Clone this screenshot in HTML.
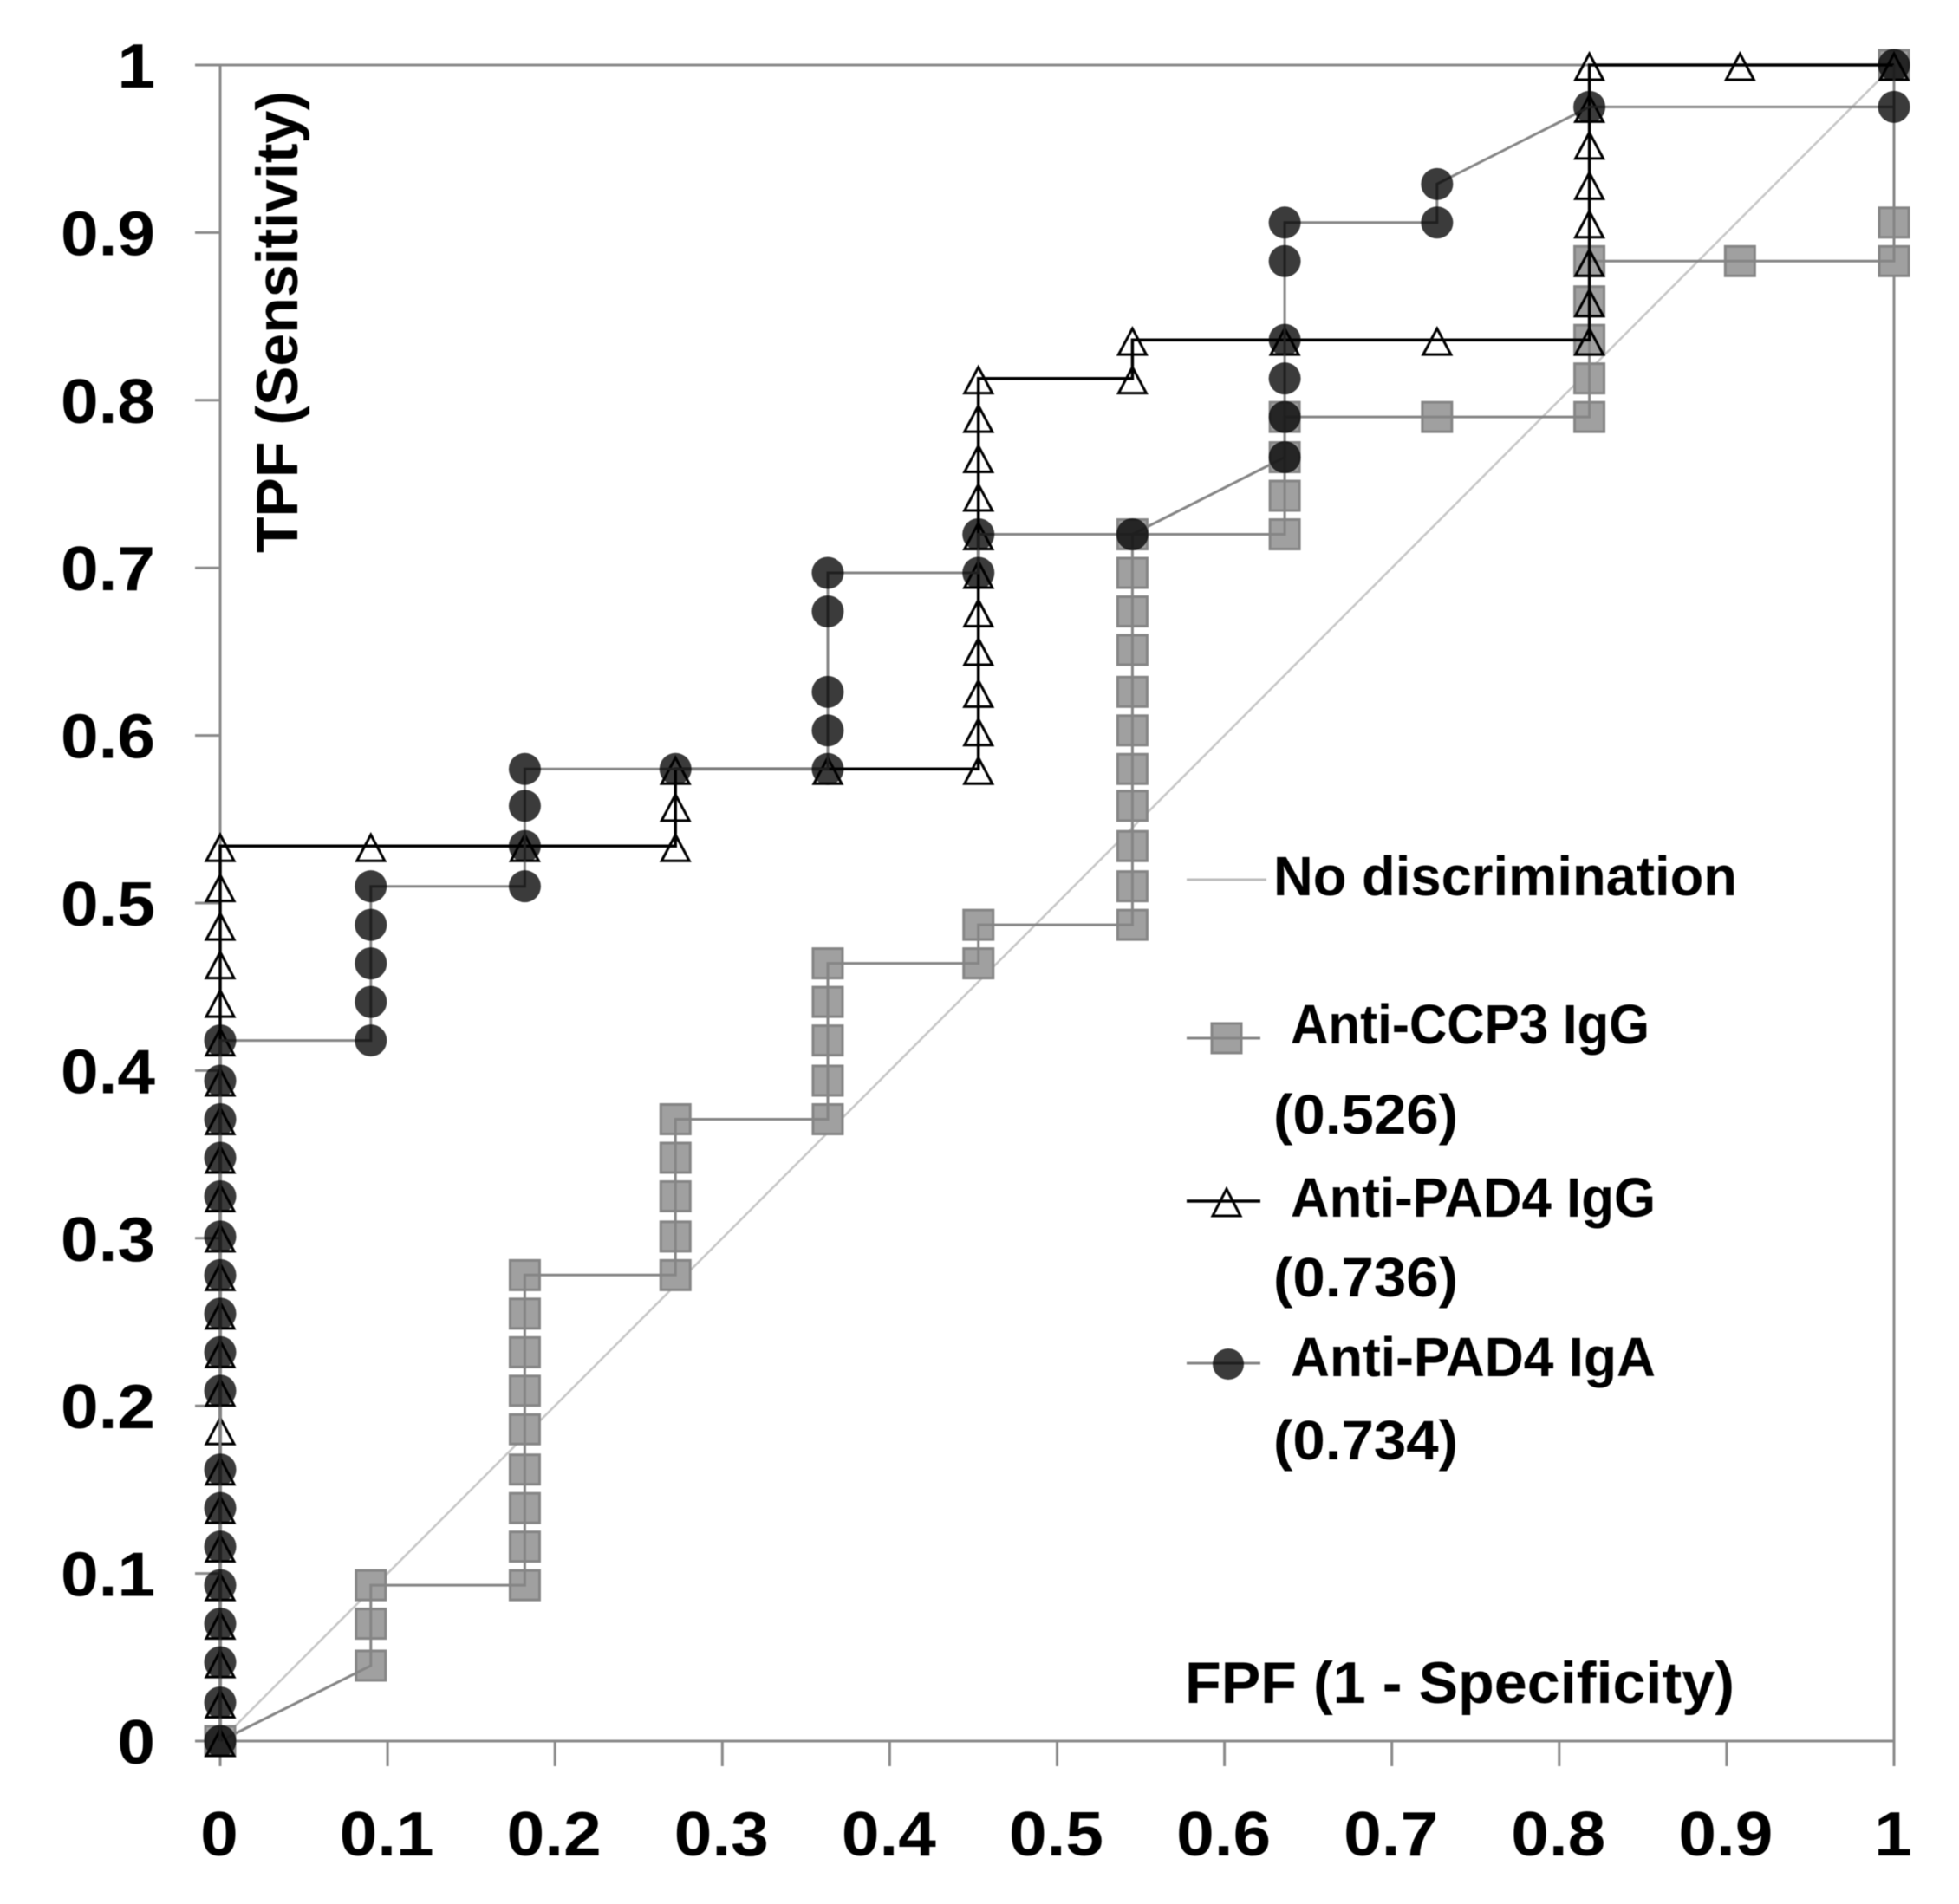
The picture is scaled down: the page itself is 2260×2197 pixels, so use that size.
<!DOCTYPE html>
<html lang="en">
<head>
<meta charset="utf-8">
<title>ROC curves</title>
<style>
html,body{margin:0;padding:0;background:#fff;width:2260px;height:2197px;overflow:hidden}
svg{display:block;filter:blur(0.6px)}
text{font-family:"Liberation Sans",sans-serif;font-weight:bold;fill:#000}
</style>
</head>
<body>
<svg id="chart" xmlns="http://www.w3.org/2000/svg" width="2260" height="2197" viewBox="0 0 2260 2197">
  <rect x="0" y="0" width="2260" height="2197" fill="#fff"/>
  <g id="frame"></g>
  <g id="ticks"></g>
  <g id="labels"></g>
  <g id="series"></g>

  <text transform="translate(343,638) rotate(-90)" font-size="68" textLength="533" lengthAdjust="spacingAndGlyphs">TPF (Sensitivity)</text>
  <text x="1367" y="1965" font-size="68" textLength="634" lengthAdjust="spacingAndGlyphs">FPF (1 - Specificity)</text>

  <g>
    <g>
      <line x1="1369" y1="1015" x2="1461" y2="1015" stroke="#bdbdbd" stroke-width="3"/>
      <text x="1469" y="1033" font-size="64" textLength="535" lengthAdjust="spacingAndGlyphs">No discrimination</text>
    </g>
    <g>
      <rect x="1398" y="1181" width="34" height="34" fill="#a0a0a0" stroke="#858585" stroke-width="3"/>
      <line x1="1369" y1="1198" x2="1454" y2="1198" stroke="#858585" stroke-width="3"/>
      <text x="1489" y="1204" font-size="64" textLength="414" lengthAdjust="spacingAndGlyphs">Anti-CCP3 IgG</text>
      <text x="1469" y="1308" font-size="64" textLength="213" lengthAdjust="spacingAndGlyphs">(0.526)</text>
    </g>
    <g>
      <polygon points="1415,1372 1431,1403 1399,1403" fill="#fff" stroke="#000" stroke-width="3"/>
      <line x1="1369" y1="1386" x2="1454" y2="1386" stroke="#000" stroke-width="3.5"/>
      <text x="1489" y="1404" font-size="64" textLength="421" lengthAdjust="spacingAndGlyphs">Anti-PAD4 IgG</text>
      <text x="1469" y="1496" font-size="64" textLength="213" lengthAdjust="spacingAndGlyphs">(0.736)</text>
    </g>
    <g>
      <line x1="1369" y1="1573" x2="1454" y2="1573" stroke="#858585" stroke-width="3"/>
      <circle cx="1417" cy="1574" r="18" fill="rgba(0,0,0,0.77)"/>
      <text x="1489" y="1588" font-size="64" textLength="421" lengthAdjust="spacingAndGlyphs">Anti-PAD4 IgA</text>
      <text x="1469" y="1684" font-size="64" textLength="213" lengthAdjust="spacingAndGlyphs">(0.734)</text>
    </g>
  </g>
</svg>
<script>
const tickValues = [0, 0.1, 0.2, 0.3, 0.4, 0.5, 0.6, 0.7, 0.8, 0.9, 1];
const tickLabels = ['0', '0.1', '0.2', '0.3', '0.4', '0.5', '0.6', '0.7', '0.8', '0.9', '1'];

const noDiscX = [0, 1];
const noDiscY = [0, 1];

const ccp3X = [0, .09, .09, .09, .182, .182, .182, .182, .182, .182, .182, .182, .182,
  .272, .272, .272, .272, .272, .363, .363, .363, .363, .363, .453, .453,
  .545, .545, .545, .545, .545, .545, .545, .545, .545, .545, .545,
  .636, .636, .636, .636, .727, .818, .818, .818, .818, .818, .908, 1, 1, 1];
const ccp3Y = [0, .045, .070, .093, .093, .116, .139, .162, .186, .209, .232, .255, .278,
  .278, .301, .325, .348, .371, .371, .394, .418, .441, .464, .464, .487,
  .487, .510, .534, .558, .580, .603, .626, .651, .674, .697, .720,
  .720, .743, .766, .790, .790, .790, .813, .836, .859, .883, .883, .883, .906, 1];

const iggX = [0, 0, 0, 0, 0, 0, 0, 0, 0, 0, 0, 0, 0, 0, 0, 0, 0, 0, 0, 0, 0, 0, 0, 0,
  .09, .182, .272, .272, .272, .363,
  .453, .453, .453, .453, .453, .453, .453, .453, .453, .453, .453,
  .545, .545, .636, .727, .818, .818, .818, .818, .818, .818, .818, .818, .908, 1];
const iggY = [0, .023, .047, .070, .093, .116, .139, .162, .186, .209, .232, .255, .278, .301, .325, .348, .371, .394, .418, .441, .464, .487, .510, .534,
  .534, .534, .534, .558, .580, .580,
  .580, .603, .626, .651, .674, .697, .720, .743, .766, .790, .813,
  .813, .836, .836, .836, .836, .859, .883, .906, .929, .953, .975, 1, 1, 1];

const igaX = [0, 0, 0, 0, 0, 0, 0, 0, 0, 0, 0, 0, 0, 0, 0, 0, 0, 0,
  .09, .09, .09, .09, .09, .182, .182, .182, .182, .272,
  .363, .363, .363, .363, .363, .453, .453, .545,
  .636, .636, .636, .636, .636, .636, .727, .727, .818, 1, 1];
const igaY = [0, .023, .047, .070, .093, .116, .139, .162, .209, .232, .255, .278, .301, .325, .348, .371, .394, .418,
  .418, .441, .464, .487, .510, .510, .534, .558, .580, .580,
  .580, .603, .626, .674, .697, .697, .720, .720,
  .766, .790, .813, .836, .883, .906, .906, .929, .975, .975, 1];

const NS = 'http://www.w3.org/2000/svg';
const plotLeft = 254, plotRight = 2185, plotTop = 75, plotBottom = 2009;
const xAxis = function (v) { return plotLeft + v * (plotRight - plotLeft); };
const yAxis = function (v) { return plotBottom - v * (plotBottom - plotTop); };

function make(tag, parent, attrs) {
  const node = document.createElementNS(NS, tag);
  for (const k in attrs) node.setAttribute(k, attrs[k]);
  parent.appendChild(node);
  return node;
}
function pathFrom(xs, ys) {
  return xs.map(function (v, i) {
    return (i ? 'L' : 'M') + xAxis(v).toFixed(1) + ' ' + yAxis(ys[i]).toFixed(1);
  }).join(' ');
}

const frame = document.getElementById('frame');
const ticks = document.getElementById('ticks');
const labels = document.getElementById('labels');
const series = document.getElementById('series');
const AXIS = '#8a8a8a';

const xAxisLine = make('line', frame, {x1: plotLeft, y1: plotBottom, x2: plotRight, y2: plotBottom, stroke: AXIS, 'stroke-width': 3});


const yAxisLine = make('line', frame, {x1: plotLeft, y1: plotTop, x2: plotLeft, y2: plotBottom, stroke: AXIS, 'stroke-width': 3});


const topLine = make('line', frame, {x1: plotLeft - 29, y1: plotTop, x2: plotRight, y2: plotTop, stroke: AXIS, 'stroke-width': 3});


const rightLine = make('line', frame, {x1: plotRight, y1: plotTop, x2: plotRight, y2: plotBottom, stroke: AXIS, 'stroke-width': 3});



tickValues.forEach(function (v, i) {
  const labelWidth = tickLabels[i].length === 1 ? 43.6 : 109;
  const xt = make('line', ticks, {x1: xAxis(v), y1: plotBottom, x2: xAxis(v), y2: plotBottom + 29, stroke: AXIS, 'stroke-width': 3});
  
  
  const yt = make('line', ticks, {x1: plotLeft - 29, y1: yAxis(v), x2: plotLeft, y2: yAxis(v), stroke: AXIS, 'stroke-width': 3});
  
  
  const xl = make('text', labels, {x: xAxis(v) - 1, y: 2141, 'font-size': 72, 'text-anchor': 'middle', textLength: labelWidth, lengthAdjust: 'spacingAndGlyphs'});
  xl.textContent = tickLabels[i];
  
  
  const yl = make('text', labels, {x: 179, y: yAxis(v) + 26, 'font-size': 72, 'text-anchor': 'end', textLength: labelWidth, lengthAdjust: 'spacingAndGlyphs'});
  yl.textContent = tickLabels[i];
  
  
});

const diag = make('path', series, {d: pathFrom(noDiscX, noDiscY), fill: 'none', stroke: '#c6c6c6', 'stroke-width': 2.5});



ccp3X.forEach(function (v, i) {
  const m = make('rect', series, {x: xAxis(v) - 17, y: yAxis(ccp3Y[i]) - 17, width: 34, height: 34, fill: '#a0a0a0', stroke: '#858585', 'stroke-width': 3});
  
  
});
const ccp3Line = make('path', series, {d: pathFrom(ccp3X, ccp3Y), fill: 'none', stroke: '#858585', 'stroke-width': 3});



iggX.forEach(function (v, i) {
  const cx = xAxis(v), cy = yAxis(iggY[i]);
  const pts = cx + ',' + (cy - 13) + ' ' + (cx + 16) + ',' + (cy + 17) + ' ' + (cx - 16) + ',' + (cy + 17);
  const m = make('polygon', series, {points: pts, fill: 'none', stroke: '#000', 'stroke-width': 3});
  
  
});
const iggLine = make('path', series, {d: pathFrom(iggX, iggY), fill: 'none', stroke: '#000', 'stroke-width': 3.5});



const igaLine = make('path', series, {d: pathFrom(igaX, igaY), fill: 'none', stroke: '#858585', 'stroke-width': 3});


igaX.forEach(function (v, i) {
  const m = make('circle', series, {cx: xAxis(v), cy: yAxis(igaY[i]), r: 18.5, fill: 'rgba(0,0,0,0.77)'});
  
  
});
</script>
</body>
</html>
